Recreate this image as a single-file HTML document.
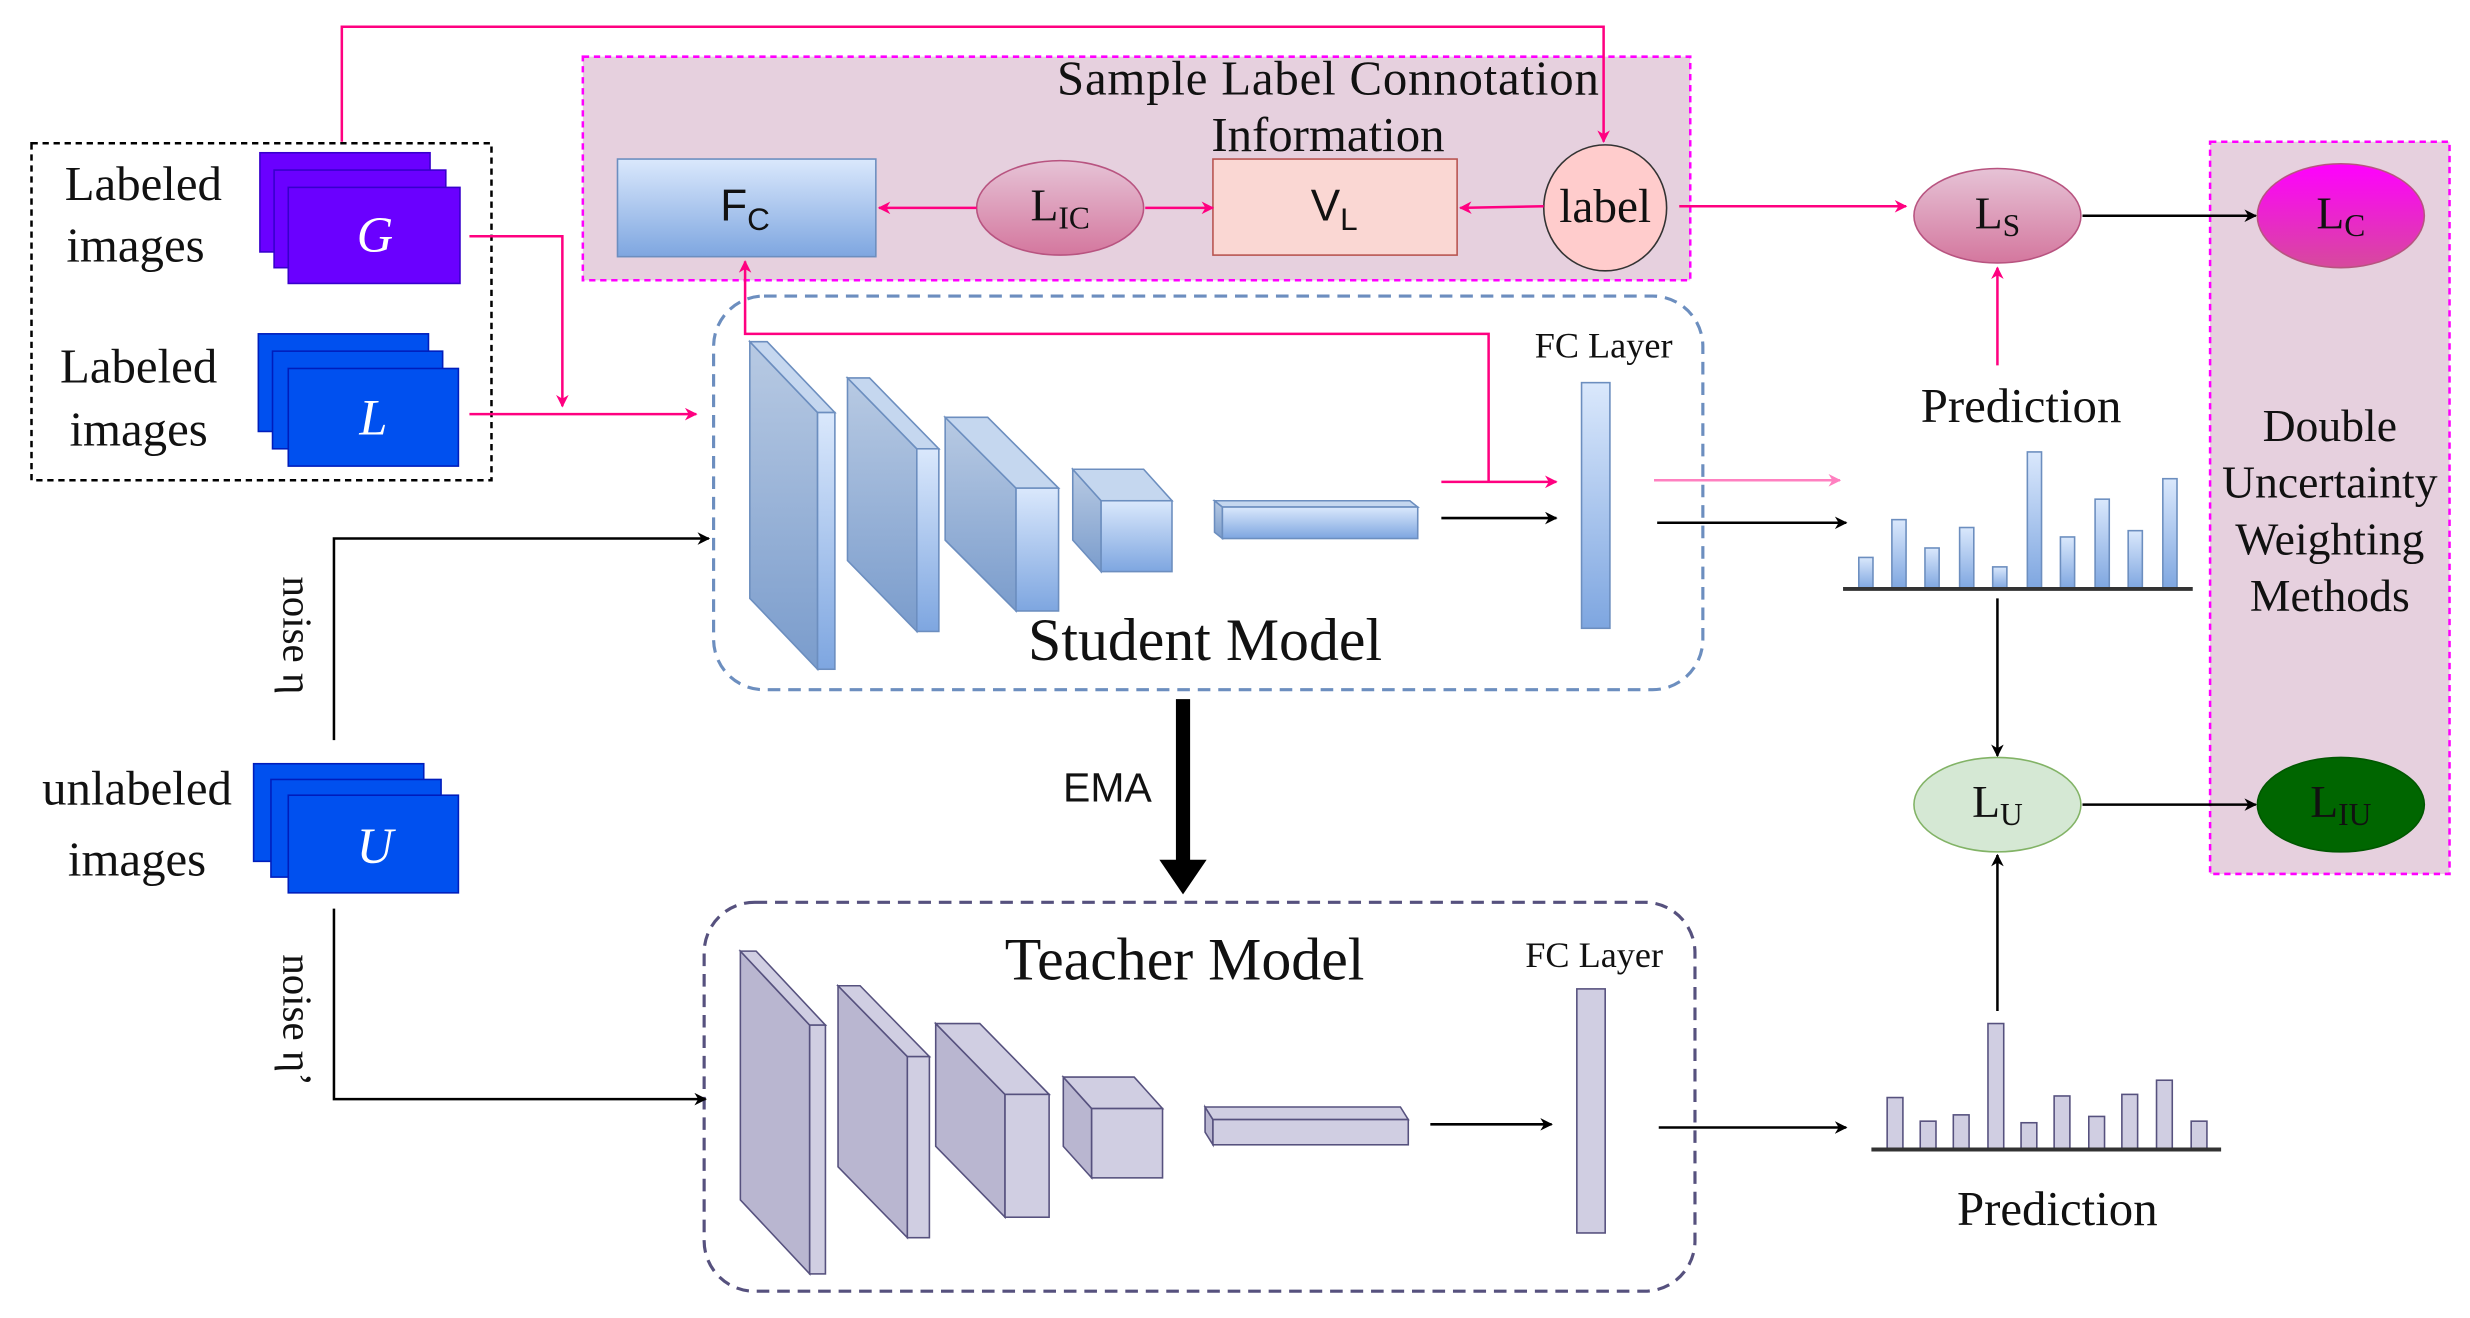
<!DOCTYPE html>
<html><head><meta charset="utf-8"><style>
html,body{margin:0;padding:0;background:#fff;}
svg{display:block;}
text{font-family:"Liberation Serif",serif;fill:#111;}
</style></head><body>
<svg width="2470" height="1318" viewBox="0 0 1568 837" preserveAspectRatio="none" xmlns="http://www.w3.org/2000/svg">
<defs>
<linearGradient id="bl" x1="0" y1="0" x2="0" y2="1"><stop offset="0" stop-color="#dae8fc"/><stop offset="1" stop-color="#7ea6e0"/></linearGradient>
<linearGradient id="bls" x1="0" y1="0" x2="0" y2="1"><stop offset="0" stop-color="#b8cae3"/><stop offset="1" stop-color="#7a9ccc"/></linearGradient>
<linearGradient id="pk" x1="0" y1="0" x2="0" y2="1"><stop offset="0" stop-color="#e6c3d6"/><stop offset="1" stop-color="#d4779e"/></linearGradient>
<linearGradient id="mg" x1="0" y1="0" x2="0" y2="1"><stop offset="0" stop-color="#ff00ff"/><stop offset="1" stop-color="#d64a9c"/></linearGradient>
<marker id="ap" viewBox="0 0 10 10" refX="9" refY="5" markerWidth="5" markerHeight="5" orient="auto"><path d="M0,0 L10,5 L0,10 L3,5z" fill="#ff0080"/></marker>
<marker id="apl" viewBox="0 0 10 10" refX="9" refY="5" markerWidth="5" markerHeight="5" orient="auto"><path d="M0,0 L10,5 L0,10 L3,5z" fill="#ff80c0"/></marker>
<marker id="ab" viewBox="0 0 10 10" refX="9" refY="5" markerWidth="5" markerHeight="5" orient="auto"><path d="M0,0 L10,5 L0,10 L3,5z" fill="#000"/></marker>
</defs>

<rect x="370" y="36" width="703" height="142" fill="#e6d0de" stroke="#ff00ff" stroke-width="1.6" stroke-dasharray="4,3"/>
<rect x="1403" y="90" width="152" height="465" fill="#e6d0de" stroke="#ff00ff" stroke-width="1.6" stroke-dasharray="4,3"/>
<rect x="20" y="91" width="292" height="214" fill="none" stroke="#000" stroke-width="1.6" stroke-dasharray="4,3"/>
<rect x="453" y="188" width="628" height="250" rx="32" fill="none" stroke="#6c8ebf" stroke-width="2" stroke-dasharray="8,5"/>
<rect x="447" y="573" width="629" height="247" rx="32" fill="none" stroke="#56517e" stroke-width="2" stroke-dasharray="8,5"/>

<text x="843" y="60" font-size="31" text-anchor="middle" textLength="344">Sample Label Connotation</text>
<text x="843" y="96" font-size="31" text-anchor="middle">Information</text>

<polyline points="217,90 217,17 1018,17 1018,90" fill="none" stroke="#ff0080" stroke-width="1.6" marker-end="url(#ap)"/>

<rect x="392" y="101" width="164" height="62" fill="url(#bl)" stroke="#6c8ebf"/>
<text x="473" y="140" font-size="28" text-anchor="middle" style="font-family:'Liberation Sans',sans-serif">F<tspan font-size="20" dy="6">C</tspan></text>
<ellipse cx="673" cy="132" rx="53" ry="30" fill="url(#pk)" stroke="#b85480"/>
<text x="673" y="140" font-size="29" text-anchor="middle">L<tspan font-size="20" dy="5">IC</tspan></text>
<rect x="770" y="101" width="155" height="61" fill="#fad7d3" stroke="#b85450"/>
<text x="847" y="140" font-size="28" text-anchor="middle" style="font-family:'Liberation Sans',sans-serif">V<tspan font-size="20" dy="6">L</tspan></text>
<ellipse cx="1019" cy="132" rx="39" ry="40" fill="#ffcccc" stroke="#333"/>
<text x="1019" y="141" font-size="30" text-anchor="middle">label</text>
<line x1="620" y1="132" x2="558" y2="132" stroke="#ff0080" stroke-width="1.6" marker-end="url(#ap)"/>
<line x1="727" y1="132" x2="770" y2="132" stroke="#ff0080" stroke-width="1.6" marker-end="url(#ap)"/>
<line x1="980" y1="131" x2="927" y2="132" stroke="#ff0080" stroke-width="1.6" marker-end="url(#ap)"/>
<line x1="1066" y1="131" x2="1210" y2="131" stroke="#ff0080" stroke-width="1.6" marker-end="url(#ap)"/>

<ellipse cx="1268" cy="137" rx="53" ry="30" fill="url(#pk)" stroke="#b85480"/>
<text x="1268" y="145" font-size="29" text-anchor="middle">L<tspan font-size="20" dy="5">S</tspan></text>
<ellipse cx="1486" cy="137" rx="53" ry="33" fill="url(#mg)" stroke="#b85480"/>
<text x="1486" y="145" font-size="29" text-anchor="middle">L<tspan font-size="20" dy="5">C</tspan></text>
<line x1="1322" y1="137" x2="1432" y2="137" stroke="#000" stroke-width="1.6" marker-end="url(#ab)"/>

<text x="1479" y="280" font-size="29" text-anchor="middle">Double</text>
<text x="1479" y="316" font-size="29" text-anchor="middle">Uncertainty</text>
<text x="1479" y="352" font-size="29" text-anchor="middle">Weighting</text>
<text x="1479" y="388" font-size="29" text-anchor="middle">Methods</text>

<ellipse cx="1268" cy="511" rx="53" ry="30" fill="#d5e8d4" stroke="#82b366"/>
<text x="1268" y="519" font-size="29" text-anchor="middle">L<tspan font-size="20" dy="5">U</tspan></text>
<ellipse cx="1486" cy="511" rx="53" ry="30" fill="#006600" stroke="#005700"/>
<text x="1486" y="519" font-size="29" text-anchor="middle">L<tspan font-size="20" dy="5">IU</tspan></text>
<line x1="1322" y1="511" x2="1432" y2="511" stroke="#000" stroke-width="1.6" marker-end="url(#ab)"/>

<g stroke="#3700cc" stroke-width="1" fill="#6a00ff">
<rect x="165" y="97" width="108" height="63"/><rect x="174" y="108" width="109" height="62"/><rect x="183" y="119" width="109" height="61"/>
</g>
<text x="238" y="160" font-size="32" font-style="italic" style="fill:#fff" text-anchor="middle">G</text>
<g stroke="#001dbc" stroke-width="1" fill="#0050ef">
<rect x="164" y="212" width="108" height="62"/><rect x="173" y="223" width="108" height="62"/><rect x="183" y="234" width="108" height="62"/>
</g>
<text x="237" y="276" font-size="32" font-style="italic" style="fill:#fff" text-anchor="middle">L</text>
<g stroke="#001dbc" stroke-width="1" fill="#0050ef">
<rect x="161" y="485" width="108" height="62"/><rect x="172" y="495" width="108" height="62"/><rect x="183" y="505" width="108" height="62"/>
</g>
<text x="238" y="548" font-size="32" font-style="italic" style="fill:#fff" text-anchor="middle">U</text>

<text x="91" y="127" font-size="31" text-anchor="middle">Labeled</text>
<text x="86" y="166" font-size="31" text-anchor="middle">images</text>
<text x="88" y="243" font-size="31" text-anchor="middle">Labeled</text>
<text x="88" y="283" font-size="31" text-anchor="middle">images</text>
<text x="87" y="511" font-size="31" text-anchor="middle">unlabeled</text>
<text x="87" y="556" font-size="31" text-anchor="middle">images</text>

<polyline points="298,150 357,150 357,258" fill="none" stroke="#ff0080" stroke-width="1.6" marker-end="url(#ap)"/>
<line x1="298" y1="263" x2="442" y2="263" stroke="#ff0080" stroke-width="1.6" marker-end="url(#ap)"/>

<polyline points="212,470 212,342 450,342" fill="none" stroke="#000" stroke-width="1.6" marker-end="url(#ab)"/>
<polyline points="212,577 212,698 448,698" fill="none" stroke="#000" stroke-width="1.6" marker-end="url(#ab)"/>
<text transform="translate(180,366) rotate(90)" font-size="26">noise η</text>
<text transform="translate(180,606) rotate(90)" font-size="26">noise η’</text>

<g stroke="#6c8ebf" stroke-width="1">
<polygon points="476,217 519,262 519,425 476,380" fill="url(#bls)"/><polygon points="476,217 487,217 530,262 519,262" fill="#c5d7ef"/><rect x="519" y="262" width="11" height="163" fill="url(#bl)"/>
<polygon points="538,240 582,285 582,401 538,356" fill="url(#bls)"/><polygon points="538,240 552,240 596,285 582,285" fill="#c5d7ef"/><rect x="582" y="285" width="14" height="116" fill="url(#bl)"/>
<polygon points="600,265 645,310 645,388 600,343" fill="url(#bls)"/><polygon points="600,265 627,265 672,310 645,310" fill="#c5d7ef"/><rect x="645" y="310" width="27" height="78" fill="url(#bl)"/>
<polygon points="681,298 699,318 699,363 681,343" fill="url(#bls)"/><polygon points="681,298 726,298 744,318 699,318" fill="#c5d7ef"/><rect x="699" y="318" width="45" height="45" fill="url(#bl)"/>
<polygon points="771,318 776,322 776,342 771,338" fill="url(#bls)"/><polygon points="771,318 895,318 900,322 776,322" fill="#c5d7ef"/><rect x="776" y="322" width="124" height="20" fill="url(#bl)"/>
<rect x="1004" y="243" width="18" height="156" fill="url(#bl)"/>
</g>
<text x="765" y="419" font-size="38" text-anchor="middle">Student Model</text>
<text x="1018" y="227" font-size="23" text-anchor="middle">FC Layer</text>

<polyline points="945,306 945,212 473,212 473,166" fill="none" stroke="#ff0080" stroke-width="1.6" marker-end="url(#ap)"/>
<line x1="915" y1="306" x2="988" y2="306" stroke="#ff0080" stroke-width="1.6" marker-end="url(#ap)"/>
<line x1="915" y1="329" x2="988" y2="329" stroke="#000" stroke-width="1.6" marker-end="url(#ab)"/>
<line x1="1050" y1="305" x2="1168" y2="305" stroke="#ff80c0" stroke-width="1.6" marker-end="url(#apl)"/>
<line x1="1052" y1="332" x2="1172" y2="332" stroke="#000" stroke-width="1.6" marker-end="url(#ab)"/>

<g fill="url(#bl)" stroke="#6c8ebf">
<rect x="1180" y="354" width="9" height="20"/><rect x="1201" y="330" width="9" height="44"/><rect x="1222" y="348" width="9" height="26"/><rect x="1244" y="335" width="9" height="39"/><rect x="1265" y="360" width="9" height="14"/><rect x="1287" y="287" width="9" height="87"/><rect x="1308" y="341" width="9" height="33"/><rect x="1330" y="317" width="9" height="57"/><rect x="1351" y="337" width="9" height="37"/><rect x="1373" y="304" width="9" height="70"/>
</g>
<line x1="1170" y1="374" x2="1392" y2="374" stroke="#333" stroke-width="2.5"/>
<text x="1283" y="268" font-size="31" text-anchor="middle">Prediction</text>
<line x1="1268" y1="232" x2="1268" y2="170" stroke="#ff0080" stroke-width="1.6" marker-end="url(#ap)"/>
<line x1="1268" y1="380" x2="1268" y2="480" stroke="#000" stroke-width="1.6" marker-end="url(#ab)"/>

<line x1="751" y1="444" x2="751" y2="548" stroke="#000" stroke-width="9"/>
<polygon points="736,546 766,546 751,568" fill="#000"/>
<text x="703" y="509" font-size="26" text-anchor="middle" style="font-family:'Liberation Sans',sans-serif">EMA</text>

<g stroke="#56517e" stroke-width="1" fill="#d0cee2">
<polygon points="470,604 514,651 514,809 470,762" fill="#b9b6d0"/><polygon points="470,604 480,604 524,651 514,651"/><rect x="514" y="651" width="10" height="158"/>
<polygon points="532,626 576,671 576,786 532,741" fill="#b9b6d0"/><polygon points="532,626 546,626 590,671 576,671"/><rect x="576" y="671" width="14" height="115"/>
<polygon points="594,650 638,695 638,773 594,728" fill="#b9b6d0"/><polygon points="594,650 622,650 666,695 638,695"/><rect x="638" y="695" width="28" height="78"/>
<polygon points="675,684 693,704 693,748 675,728" fill="#b9b6d0"/><polygon points="675,684 720,684 738,704 693,704"/><rect x="693" y="704" width="45" height="44"/>
<polygon points="765,703 770,711 770,727 765,719" fill="#b9b6d0"/><polygon points="765,703 889,703 894,711 770,711"/><rect x="770" y="711" width="124" height="16"/>
<rect x="1001" y="628" width="18" height="155"/>
</g>
<text x="752" y="622" font-size="38" text-anchor="middle">Teacher Model</text>
<text x="1012" y="614" font-size="23" text-anchor="middle">FC Layer</text>
<line x1="908" y1="714" x2="985" y2="714" stroke="#000" stroke-width="1.6" marker-end="url(#ab)"/>
<line x1="1053" y1="716" x2="1172" y2="716" stroke="#000" stroke-width="1.6" marker-end="url(#ab)"/>

<g fill="#d0cee2" stroke="#56517e">
<rect x="1198" y="697" width="10" height="33"/><rect x="1219" y="712" width="10" height="18"/><rect x="1240" y="708" width="10" height="22"/><rect x="1262" y="650" width="10" height="80"/><rect x="1283" y="713" width="10" height="17"/><rect x="1304" y="696" width="10" height="34"/><rect x="1326" y="709" width="10" height="21"/><rect x="1347" y="695" width="10" height="35"/><rect x="1369" y="686" width="10" height="44"/><rect x="1391" y="712" width="10" height="18"/>
</g>
<line x1="1188" y1="730" x2="1410" y2="730" stroke="#333" stroke-width="2.5"/>
<text x="1306" y="778" font-size="31" text-anchor="middle">Prediction</text>
<line x1="1268" y1="642" x2="1268" y2="543" stroke="#000" stroke-width="1.6" marker-end="url(#ab)"/>
</svg>
</body></html>
